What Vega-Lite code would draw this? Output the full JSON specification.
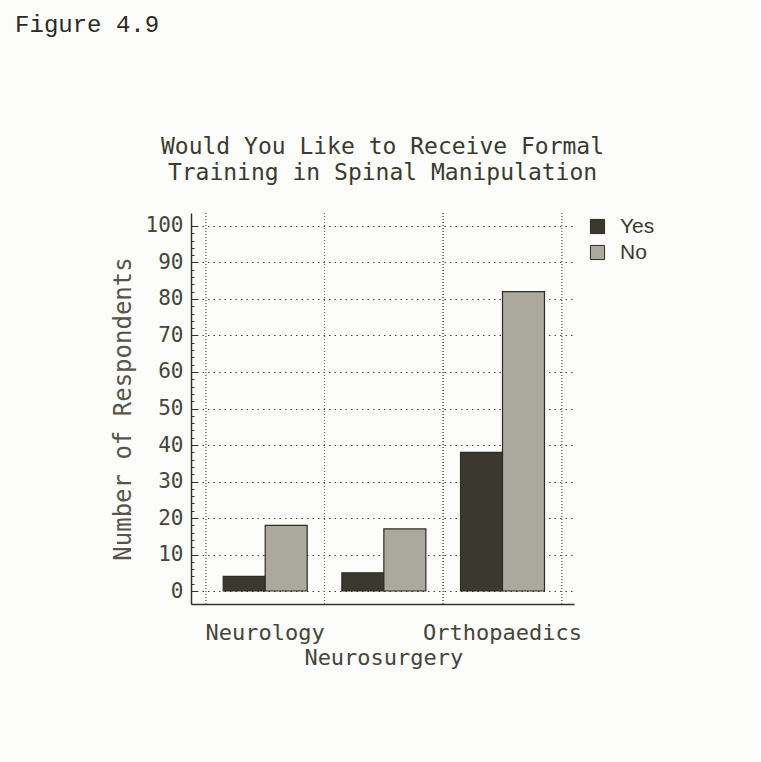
{
  "$schema": "https://vega.github.io/schema/vega-lite/v6.json",
  "background": "#fcfcfa",
  "padding": {"left": 15, "top": 12, "right": 105, "bottom": 105},
  "title": {
    "text": "Figure 4.9",
    "anchor": "start",
    "font": "Liberation Mono",
    "fontSize": 24,
    "fontWeight": "normal",
    "color": "#2a2a22",
    "dx": -96,
    "offset": 99
  },
  "config": {
    "font": "DejaVu Sans Mono",
    "view": {"stroke": null},
    "axis": {"labelColor": "#45453b", "titleColor": "#55554a", "labelFont": "DejaVu Sans Mono", "titleFont": "DejaVu Sans Mono"}
  },
  "vconcat": [
    {
      "title": {
        "text": ["Would You Like to Receive Formal", "Training in Spinal Manipulation"],
        "font": "DejaVu Sans Mono",
        "fontSize": 23,
        "lineHeight": 26,
        "fontWeight": "normal",
        "color": "#3a3a30",
        "offset": 28
      },
      "width": 383,
      "height": 391,
      "data": {
        "values": [
          {"group": "Neurology", "answer": "Yes", "count": 4},
          {"group": "Neurology", "answer": "No", "count": 18},
          {"group": "Neurosurgery", "answer": "Yes", "count": 5},
          {"group": "Neurosurgery", "answer": "No", "count": 17},
          {"group": "Orthopaedics", "answer": "Yes", "count": 38},
          {"group": "Orthopaedics", "answer": "No", "count": 82}
        ]
      },
      "layer": [
        {
          "mark": {"type": "bar", "stroke": "#2e2c24", "strokeWidth": 1.2},
          "encoding": {
            "x": {
              "field": "group", "type": "nominal",
              "sort": ["Neurology", "Neurosurgery", "Orthopaedics"],
              "scale": {"paddingInner": 0, "paddingOuter": 0.114, "align": 0.55},
              "axis": {
                "title": null,
                "bandPosition": 0.5,
                "labelAngle": 0,
                "labelFontSize": 22,
                "labelPadding": {"condition": {"test": "datum.value === 'Neurosurgery'", "value": 43}, "value": 18},
                "ticks": false,
                "grid": false,
                "domainColor": "#333329",
                "domainWidth": 1.5
              }
            },
            "xOffset": {
              "field": "answer", "type": "nominal", "sort": ["Yes", "No"],
              "scale": {"paddingOuter": 0.413, "paddingInner": 0}
            },
            "y": {
              "field": "count", "type": "quantitative",
              "scale": {"domain": [-3.56, 103.56], "nice": false, "zero": false},
              "axis": {
                "title": "Number of Respondents",
                "titleFontSize": 24,
                "titleFontWeight": "normal",
                "titlePadding": 10,
                "values": [0,2,4,6,8,10,12,14,16,18,20,22,24,26,28,30,32,34,36,38,40,42,44,46,48,50,52,54,56,58,60,62,64,66,68,70,72,74,76,78,80,82,84,86,88,90,92,94,96,98,100],
                "labelExpr": "datum.value % 10 === 0 ? datum.label : ''",
                "labelOverlap": false,
                "labelFontSize": 21,
                "labelPadding": 14,
                "tickSize": {"condition": {"test": "datum.value % 10 === 0", "value": -6}, "value": -3},
                "tickColor": "#333329",
                "domainColor": "#333329",
                "domainWidth": 1.5,
                "grid": true,
                "gridDash": [1.5, 4],
                "gridColor": "#45453b",
                "gridOpacity": {"condition": {"test": "datum.value % 10 === 0", "value": 1}, "value": 0}
              }
            },
            "y2": {"datum": 0},
            "color": {
              "field": "answer", "type": "nominal",
              "scale": {"domain": ["Yes", "No"], "range": ["#3b392f", "#aba89d"]},
              "legend": {
                "title": null,
                "orient": "none",
                "legendX": 396,
                "legendY": 3,
                "symbolType": "square",
                "symbolSize": 200,
                "symbolStrokeColor": "#2e2c24",
                "symbolStrokeWidth": 1,
                "symbolOpacity": 1,
                "labelFont": "Liberation Sans",
                "labelFontSize": 21,
                "labelColor": "#3a3a30",
                "labelOffset": 12,
                "rowPadding": 4,
                "padding": 0
              }
            }
          }
        },
        {
          "mark": {"type": "rule", "strokeDash": [1, 2], "color": "#6a6a60", "strokeWidth": 1},
          "encoding": {
            "x": {
              "field": "group", "type": "nominal", "bandPosition": 0,
              "sort": ["Neurology", "Neurosurgery", "Orthopaedics"]
            }
          }
        },
        {
          "mark": {"type": "rule", "strokeDash": [1, 2], "color": "#6a6a60", "strokeWidth": 1},
          "encoding": {
            "x": {
              "field": "group", "type": "nominal", "bandPosition": 1,
              "sort": ["Neurology", "Neurosurgery", "Orthopaedics"]
            }
          }
        }
      ]
    }
  ]
}
